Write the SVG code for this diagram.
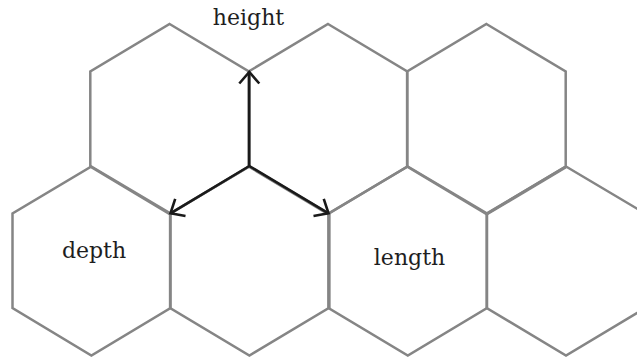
<svg xmlns="http://www.w3.org/2000/svg" width="637" height="358" viewBox="0 0 637 358">
  <style>
    .hex { fill: none; stroke: #858585; stroke-width: 2.5; stroke-linejoin: miter; }
    .lbl { font-family: "DejaVu Serif", "Liberation Serif", serif; font-size: 22px; fill: #1e1e1e; text-anchor: middle; }
    .arr { fill: none; stroke: #1a1a1a; stroke-width: 2.6; marker-end: url(#chev); }
  </style>
  <defs>
    <marker id="chev" markerUnits="userSpaceOnUse" viewBox="-14 -12 16 24" refX="0" refY="0" markerWidth="16" markerHeight="24" orient="auto" overflow="visible">
      <path d="M-11.5,-10 L0,0 L-11.5,10" fill="none" stroke="#1a1a1a" stroke-width="2.6"/>
    </marker>
  </defs>
  <rect width="637" height="358" fill="#ffffff"/>
  <g id="hex-top-1"><polygon class="hex" points="169.6,24 248.9,71.5 248.9,166.5 169.6,214 90.3,166.5 90.3,71.5"/></g>
  <g id="hex-top-2"><polygon class="hex" points="328,24 407.3,71.5 407.3,166.5 328,214 248.7,166.5 248.7,71.5"/></g>
  <g id="hex-top-3"><polygon class="hex" points="486.4,24 565.7,71.5 565.7,166.5 486.4,214 407.1,166.5 407.1,71.5"/></g>
  <g id="hex-depth"><polygon class="hex" points="91.4,166.5 170.5,213.5 170.5,308 91.4,355.5 12.5,308 12.5,213.5"/>
    <text class="lbl" x="94" y="258">depth</text></g>
  <g id="hex-bottom-2"><polygon class="hex" points="249.4,166.5 328.7,213.5 328.7,308 249.4,355.5 170.1,308 170.1,213.5"/></g>
  <g id="hex-length"><polygon class="hex" points="407.8,166.5 487,213.5 487,308 407.8,355.5 328.5,308 328.5,213.5"/>
    <line class="hex" x1="329.4" y1="213.5" x2="329.4" y2="308"/>
    <text class="lbl" x="409.5" y="265">length</text></g>
  <g id="hex-bottom-4"><polygon class="hex" points="566,166.5 645.3,213.5 645.3,308 566,355.5 486.7,308 486.7,213.5"/>
    <line class="hex" x1="487" y1="214.3" x2="566" y2="167.3"/></g>
  <g id="label-height"><text class="lbl" x="248.5" y="25">height</text></g>
  <g id="connectors">
    <line class="arr" x1="249.3" y1="166" x2="249.3" y2="72"/>
    <line class="arr" x1="249.3" y1="166" x2="170.5" y2="213.3"/>
    <line class="arr" x1="249.3" y1="166" x2="328.5" y2="213.3"/>
  </g>
</svg>
